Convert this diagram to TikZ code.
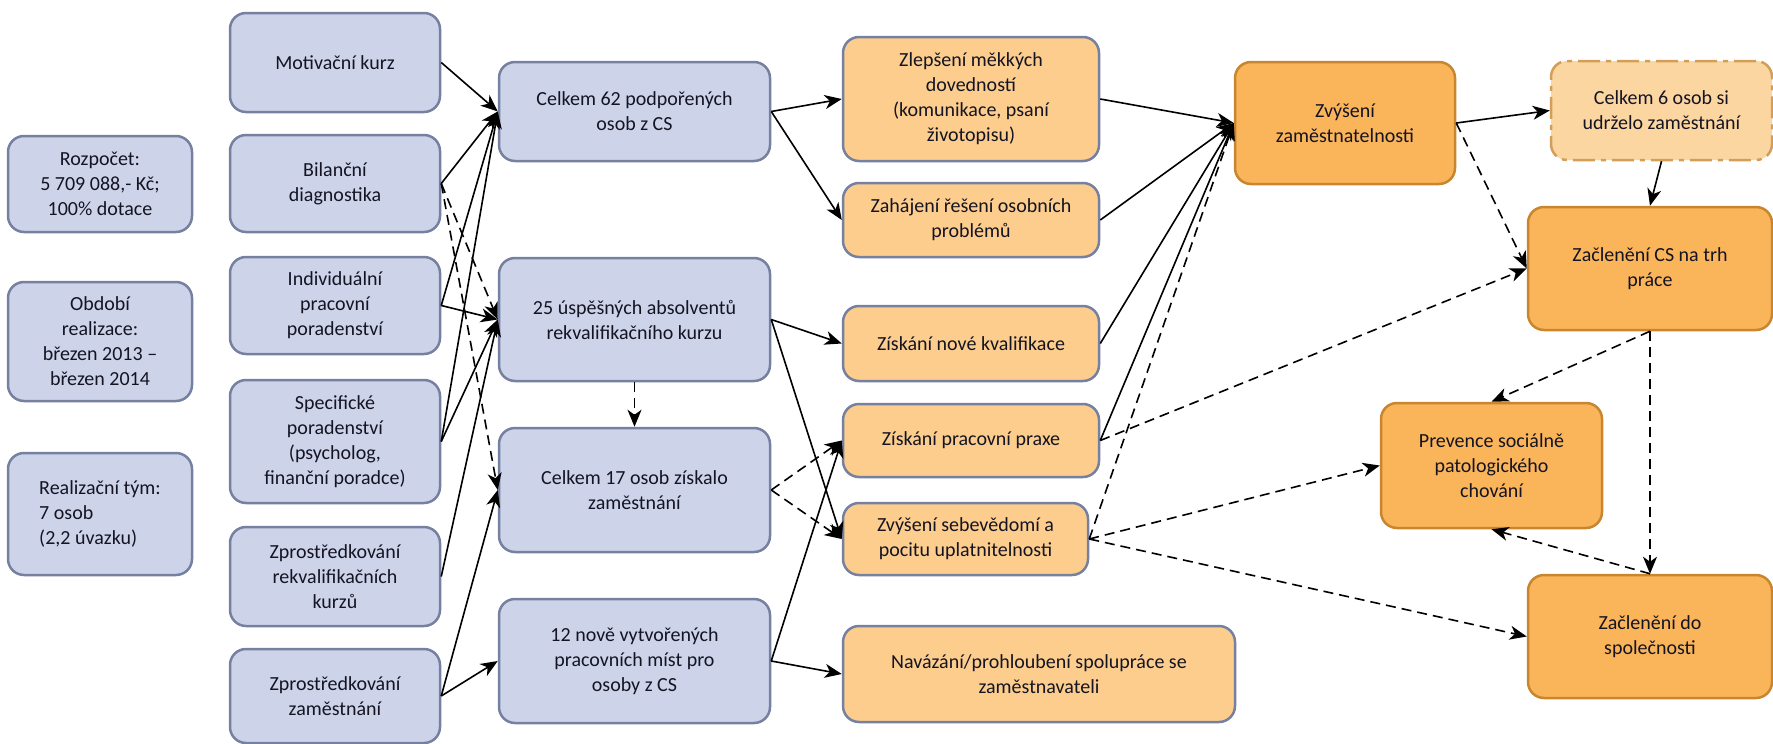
\documentclass[tikz,border=0pt]{standalone}
\usepackage{fontspec}
\setmainfont{Carlito}
\usetikzlibrary{arrows.meta,positioning}

\definecolor{modra}{RGB}{205,212,234}
\definecolor{modralinka}{RGB}{118,128,160}
\definecolor{svetla}{RGB}{252,205,140}
\definecolor{oranz}{RGB}{250,180,90}
\definecolor{oranzlinka}{RGB}{200,134,46}
\definecolor{vybledla}{RGB}{252,214,160}
\definecolor{pismo}{RGB}{20,20,35}

\begin{document}
\begin{tikzpicture}[x=1pt,y=-1pt,>={Stealth[length=17pt,width=14pt,inset=5pt]},line width=1.6pt,
		box/.style={rectangle,rounded corners=16pt,line width=2.5pt,align=center,inner sep=0pt,text=pismo,font=\fontsize{20}{25}\selectfont},
		info/.style={box,draw=modralinka,fill=modra,minimum width=184pt},
		vstup/.style={box,draw=modralinka,fill=modra,minimum width=210pt},
		vystup/.style={box,draw=modralinka,fill=modra,minimum width=271pt},
		vysledek/.style={box,draw=modralinka,fill=svetla},
		dopad/.style={box,draw=oranzlinka,fill=oranz},
		dashed/.style={dash pattern=on 10pt off 6pt}]
	\useasboundingbox (0,0) rectangle (1773,744);
	% projekt
	\node[info,minimum height=96pt] (a_1) at (100,184) {Rozpočet:\\5 709 088,- Kč;\\100\% dotace};
	\node[info,minimum height=119pt] (a_2) at (100,341.5) {Období\\realizace:\\březen 2013 –\\březen 2014};
	\node[info,minimum height=122pt,align=left] (a_3) at (100,514) {Realizační tým:\\7 osob\\(2,2 úvazku)};
	% aktivity
	\node[vstup,minimum height=99pt] (v_1) at (335,62.5) {Motivační kurz};
	\node[vstup,minimum height=97pt] (v_2) at (335,183.5) {Bilanční\\diagnostika};
	\node[vstup,minimum height=97pt] (v_3) at (335,305.5) {Individuální\\pracovní\\poradenství};
	\node[vstup,minimum height=123pt] (v_4) at (335,441.5) {Specifické\\poradenství\\(psycholog,\\finanční poradce)};
	\node[vstup,minimum height=99pt] (v_5) at (335,576.5) {Zprostředkování\\rekvalifikačních\\kurzů};
	\node[vstup,minimum height=94pt] (v_6) at (335,696) {Zprostředkování\\zaměstnání};
	% vystupy
	\node[vystup,minimum height=99pt] (o_1) at (634.5,111.5) {Celkem 62 podpořených\\osob z CS};
	\node[vystup,minimum height=123pt] (o_2) at (634.5,319.5) {25 úspěšných absolventů\\rekvalifikačního kurzu};
	\node[vystup,minimum height=124pt] (o_3) at (634.5,490) {Celkem 17 osob získalo\\zaměstnání};
	\node[vystup,minimum height=124pt] (o_4) at (634.5,661) {12 nově vytvořených\\pracovních míst pro\\osoby z CS};
	% vysledky
	\node[vysledek,minimum width=256pt,minimum height=124pt] (r_1) at (971,99) {Zlepšení měkkých\\dovedností\\(komunikace, psaní\\životopisu)};
	\node[vysledek,minimum width=256pt,minimum height=74pt] (r_2) at (971,220) {Zahájení řešení osobních\\problémů};
	\node[vysledek,minimum width=256pt,minimum height=75pt] (r_3) at (971,343.5) {Získání nové kvalifikace};
	\node[vysledek,minimum width=256pt,minimum height=73pt] (r_4) at (971,440.5) {Získání pracovní praxe};
	\node[vysledek,minimum width=245pt,minimum height=72pt] (r_5) at (965.5,539) {Zvýšení sebevědomí a\\pocitu uplatnitelnosti};
	\node[vysledek,minimum width=392pt,minimum height=96pt] (r_6) at (1039,674) {Navázání/prohloubení spolupráce se\\zaměstnavateli};
	% dopady
	\node[dopad,minimum width=220pt,minimum height=122pt] (d_1) at (1345,123) {Zvýšení\\zaměstnatelnosti};
	\node[box,draw=oranzlinka!80,fill=vybledla,dash pattern=on 22pt off 6pt on 5pt off 6pt,minimum width=221pt,minimum height=99pt] (d_2) at (1661.5,110.5) {Celkem 6 osob si\\udrželo zaměstnání};
	\node[dopad,minimum width=244pt,minimum height=123pt] (d_3) at (1650,268.5) {Začlenění CS na trh\\práce};
	\node[dopad,minimum width=221pt,minimum height=125pt] (d_4) at (1491.5,465.5) {Prevence sociálně\\patologického\\chování};
	\node[dopad,minimum width=244pt,minimum height=123pt] (d_5) at (1650,636.5) {Začlenění do\\společnosti};
	\path[->]
		(v_1.east) edge (o_1.west)
		(v_2.east) edge (o_1.west)
		(v_3.east) edge (o_1.west)
		(v_3.east) edge (o_2.west)
		(v_4.east) edge (o_1.west)
		(v_4.east) edge (o_2.west)
		(v_5.east) edge (o_2.west)
		(v_6.east) edge (o_3.west)
		(v_6.east) edge (o_4.west)
		(o_1.east) edge (r_1.west)
		(o_1.east) edge (r_2.west)
		(o_2.east) edge (r_3.west)
		(o_2.east) edge (r_5.west)
		(o_4.east) edge (r_4.west)
		(o_4.east) edge (r_6.west)
		(r_1.east) edge (d_1.west)
		(r_2.east) edge (d_1.west)
		(r_3.east) edge (d_1.west)
		(r_4.east) edge (d_1.west)
		(d_1.east) edge (d_2.west)
		(d_2.south) edge (d_3.north);
	\path[->,dashed]
		(v_2.east) edge (o_2.west)
		(v_2.east) edge (o_3.west)
		(o_2.south) edge (o_3.north)
		(o_3.east) edge (r_4.west)
		(o_3.east) edge (r_5.west)
		(r_5.east) edge (d_1.west)
		(r_4.east) edge (d_3.west)
		(d_1.east) edge (d_3.west)
		(r_5.east) edge (d_4.west)
		(r_5.east) edge (d_5.west)
		(d_3.south) edge (d_4.north)
		(d_3.south) edge (d_5.north)
		(d_5.north) edge (d_4.south);
\end{tikzpicture}
\end{document}
